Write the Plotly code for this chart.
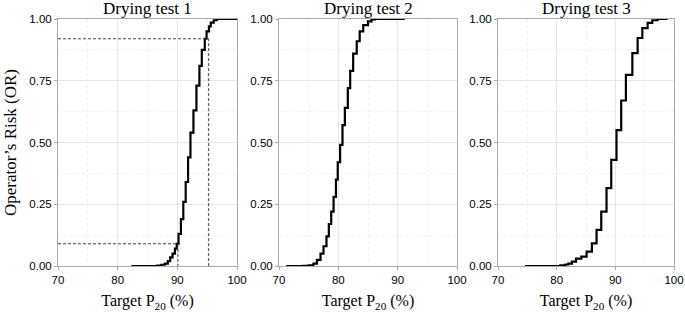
import plotly.graph_objects as go

titles = ["Drying test 1", "Drying test 2", "Drying test 3"]

t1_x = [82.3, 86.6, 87.3, 87.9, 88.4, 88.8, 89.2, 89.6, 89.9, 90.2, 90.6, 91.0, 91.4, 91.8,
        92.2, 92.7, 93.2, 93.7, 94.1, 94.6, 94.9, 95.3, 95.6, 96.1, 96.6, 100.0]
t1_y = [0.0, 0.002, 0.005, 0.01, 0.02, 0.035, 0.05, 0.07, 0.09, 0.13, 0.19, 0.26, 0.34, 0.44,
        0.54, 0.63, 0.73, 0.81, 0.875, 0.92, 0.95, 0.97, 0.985, 0.995, 1.0, 1.0]

t2_x = [71.2, 74.0, 75.0, 75.8, 76.4, 77.0, 77.5, 78.0, 78.4, 78.8, 79.2, 79.6, 79.9, 80.3,
        80.7, 81.1, 81.6, 82.0, 82.5, 83.1, 83.6, 84.2, 85.0, 85.6, 86.2, 91.2]
t2_y = [0.0, 0.001, 0.003, 0.01, 0.025, 0.05, 0.08, 0.12, 0.17, 0.22, 0.28, 0.35, 0.42, 0.49,
        0.57, 0.64, 0.72, 0.79, 0.86, 0.91, 0.95, 0.975, 0.99, 0.998, 1.0, 1.0]

t3_x = [74.6, 80.6, 81.5, 82.0, 82.6, 83.3, 84.2, 85.1, 86.0, 86.8, 87.6, 88.5, 89.3, 90.2,
        91.0, 91.8, 92.9, 93.8, 94.6, 95.5, 96.3, 97.2, 98.9]
t3_y = [0.0, 0.003, 0.006, 0.01, 0.018, 0.03, 0.038, 0.058, 0.092, 0.146, 0.22, 0.315, 0.43,
        0.55, 0.67, 0.774, 0.862, 0.923, 0.963, 0.984, 0.995, 1.0, 1.0]

# reference lines on test 1: (target, risk)
ref_x = [90.1, 95.25]
ref_y = [0.09, 0.92]

series = [(t1_x, t1_y), (t2_x, t2_y), (t3_x, t3_y)]

W, H = 685, 313
ml, mr, mt, mb = 58, 11, 19, 47
pw = W - ml - mr
domains = [(0, 179 / pw), ((279 - ml) / pw, (457 - ml) / pw), ((498 - ml) / pw, 1.0)]

SERIF = "Liberation Serif"
SANS = "Liberation Sans"
fig = go.Figure()

for i, (xs, ys) in enumerate(series):
    n = "" if i == 0 else str(i + 1)
    fig.add_trace(go.Scatter(x=xs, y=ys, mode="lines", line=dict(color="black", width=2.2, shape="hv"),
                             xaxis="x" + n, yaxis="y" + n, showlegend=False))

for rx, ry in zip(ref_x, ref_y):
    fig.add_trace(go.Scatter(x=[70, rx, rx], y=[ry, ry, 0], mode="lines",
                             line=dict(color="#444444", width=1, dash="3px,2px"),
                             xaxis="x", yaxis="y", showlegend=False))

layout = dict(width=W, height=H, margin=dict(l=ml, r=mr, t=mt, b=mb, autoexpand=False),
              paper_bgcolor="white", plot_bgcolor="white",
              font=dict(family=SERIF, color="black", size=13))
for i in range(3):
    n = "" if i == 0 else str(i + 1)
    layout["xaxis" + n] = dict(domain=domains[i], range=[70, 100], tickvals=[70, 80, 90, 100],
                               anchor="y" + n, showline=True, mirror=True, linecolor="#aaaaaa", linewidth=1,
                               showgrid=True, gridcolor="#e6e6e6", gridwidth=1, zeroline=False,
                               minor=dict(dtick=5, showgrid=True, gridcolor="#efefef", griddash="dot"),
                               ticks="outside", ticklen=3, tickcolor="#aaaaaa", automargin=False,
                               ticklabeloverflow="allow",
                               tickfont=dict(family=SANS, size=11.5),
                               title=dict(text="Target P<sub>20</sub> (%)", font=dict(family=SERIF, size=16), standoff=10))
    layout["yaxis" + n] = dict(domain=[0, 1], range=[0, 1], tickvals=[0, 0.25, 0.5, 0.75, 1.0],
                               tickformat=".2f", anchor="x" + n, showline=True, mirror=True,
                               linecolor="#aaaaaa", linewidth=1, showgrid=True, gridcolor="#e6e6e6",
                               minor=dict(dtick=0.125, showgrid=True, gridcolor="#efefef", griddash="dot"),
                               zeroline=False, ticks="outside", ticklen=3, tickcolor="#aaaaaa",
                               automargin=False, ticklabeloverflow="allow",
                               tickfont=dict(family=SANS, size=11.5))
layout["yaxis"]["title"] = dict(text="Operator’s Risk (OR)", font=dict(family=SERIF, size=17), standoff=8)
fig.update_layout(**layout)

for i, t in enumerate(titles):
    d = domains[i]
    fig.add_annotation(text=t, x=(d[0] + d[1]) / 2, y=1.0, xref="paper", yref="paper",
                       xanchor="center", yanchor="bottom", yshift=-1, showarrow=False,
                       font=dict(family=SERIF, size=17, color="black"))

fig.write_html("out.html", config={"displayModeBar": False},
               post_script="document.body.style.margin='0';document.body.style.padding='0';")
